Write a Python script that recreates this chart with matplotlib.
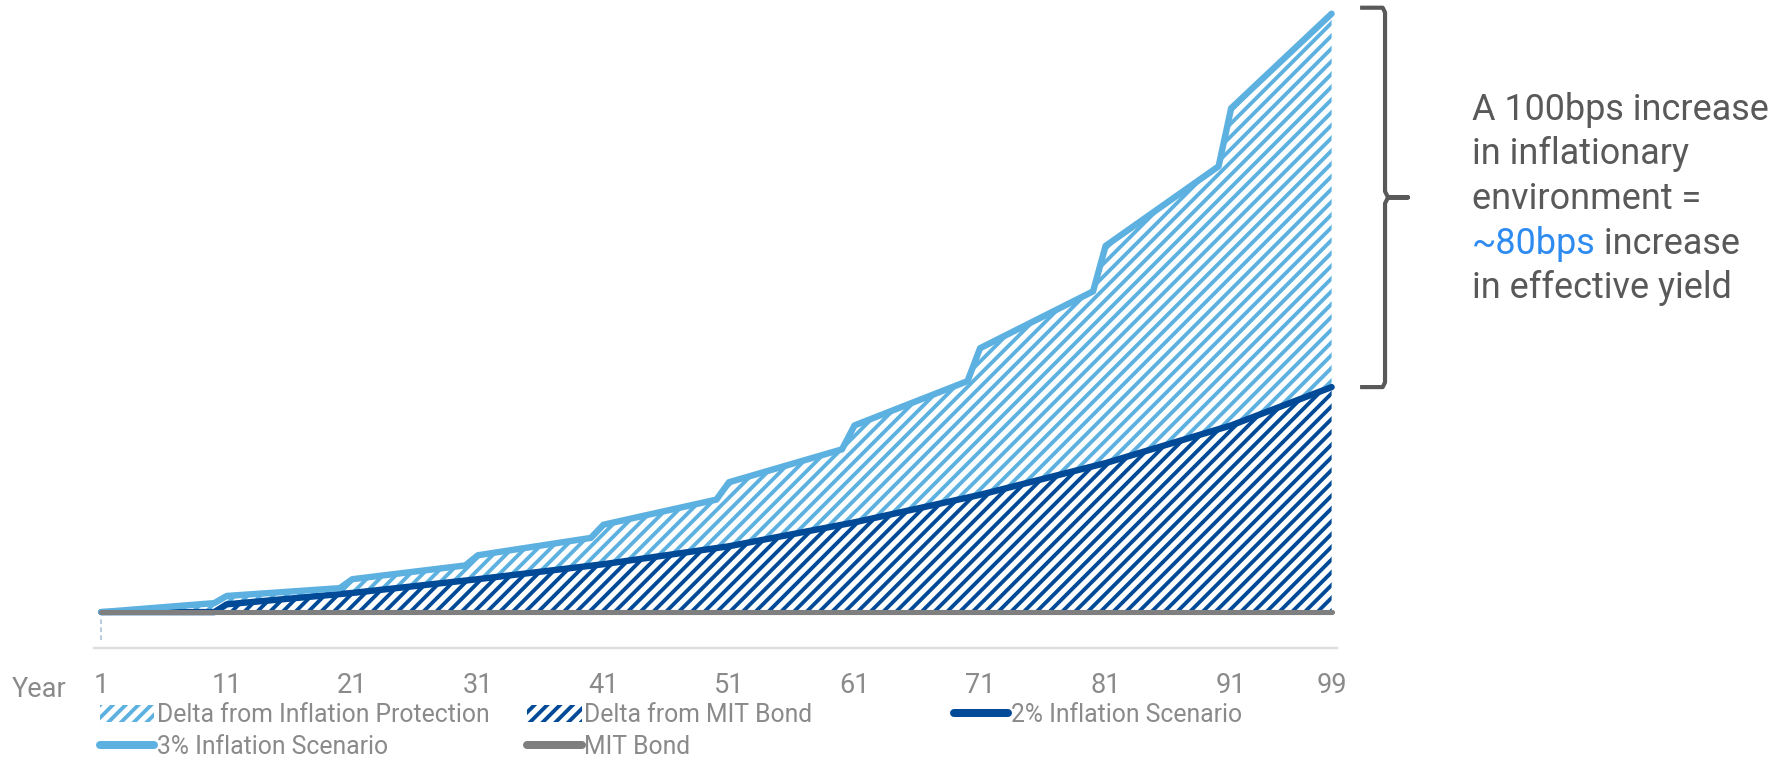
import numpy as np
import matplotlib
matplotlib.use('Agg')
import matplotlib.pyplot as plt
from matplotlib.patches import Patch
from matplotlib.lines import Line2D
from matplotlib.transforms import blended_transform_factory

# values (index, 3% scenario end = 100)
years_3pct = [1, 10, 11, 20, 21, 30, 31, 40, 41, 50, 51, 60, 61, 70, 71, 80, 81, 90, 91, 99]
vals_3pct = [0, 1.5, 2.7, 4.0, 5.5, 7.8, 9.5, 12.4, 14.6, 18.8, 21.7, 27.2,
             31.2, 38.6, 44.1, 53.6, 61.2, 74.5, 84.2, 100.0]

years_2pct = [1, 10, 11, 21, 31, 41, 51, 61, 71, 81, 91, 99]
vals_2pct = [0, 0, 1.3, 3.2, 5.5, 8.0, 11.0, 15.0, 19.6, 24.9, 31.2, 37.6]

years_mit = [1, 99]
vals_mit = [0, 0]

tick_years = [1, 11, 21, 31, 41, 51, 61, 71, 81, 91, 99]

light = '#5DB1E1'
dark = '#004A98'
grey = '#7F7F7F'
txt = '#8A8A8A'

plt.rcParams['font.family'] = ['Roboto', 'DejaVu Sans']
plt.rcParams['hatch.linewidth'] = 2.4

DPI = 115
fig = plt.figure(figsize=(1783 / DPI, 757 / DPI), dpi=DPI)
ax = fig.add_axes([0.0527, 0.144, 0.6973, 0.8458])

# hatched areas
ax.fill(np.r_[years_3pct, years_2pct[::-1]], np.r_[vals_3pct, vals_2pct[::-1]],
        facecolor='white', edgecolor=light, hatch='///', lw=0, zorder=1)
ax.fill_between(years_2pct, 0, vals_2pct, facecolor='white', edgecolor=dark,
                hatch='///', lw=0, zorder=1)

# lines
ax.plot(years_2pct, vals_2pct, color=dark, lw=4, solid_capstyle='round',
        solid_joinstyle='round', clip_on=False, zorder=3)
ax.plot(years_3pct, vals_3pct, color=light, lw=4, solid_capstyle='round',
        solid_joinstyle='round', clip_on=False, zorder=4)
ax.plot(years_mit, vals_mit, color=grey, lw=3.2, solid_capstyle='round',
        clip_on=False, zorder=5)

ax.vlines(1, -4.7, -1.1, colors='#A9C0DA', linestyles=(0, (3, 2)), lw=1)

ax.set_xlim(0.42, 99.45)
ax.set_ylim(-6, 101)
for s in ['top', 'left', 'right']:
    ax.spines[s].set_visible(False)
ax.spines['bottom'].set_color('#DDDDDD')
ax.spines['bottom'].set_linewidth(1.5)
ax.set_xticks(tick_years)
ax.set_yticks([])
ax.tick_params(axis='x', length=0, pad=15, labelsize=17, labelcolor=txt)

fig.text(0.00645, 0.0790, 'Year', fontsize=17, color=txt, va='baseline')

# legend, three fixed columns
h_ip = Patch(facecolor='white', edgecolor=light, hatch='///', lw=0)
h_md = Patch(facecolor='white', edgecolor=dark, hatch='///', lw=0)
l2 = Line2D([], [], color=dark, lw=5, solid_capstyle='round')
l3 = Line2D([], [], color=light, lw=5, solid_capstyle='round')
lm = Line2D([], [], color=grey, lw=5, solid_capstyle='round')
leg_kw = dict(frameon=False, fontsize=15.5, labelcolor=txt, handlelength=2.2,
              handletextpad=0.1, labelspacing=0.3, borderpad=0,
              borderaxespad=0, loc='center left')
fig.legend([h_ip, l3], ['Delta from Inflation Protection', '3% Inflation Scenario'],
           bbox_to_anchor=(0.0561, 0.0345), **leg_kw)
fig.legend([h_md, lm], ['Delta from MIT Bond', 'MIT Bond'],
           bbox_to_anchor=(0.2956, 0.0345), **leg_kw)
fig.legend([l2], ['2% Inflation Scenario'],
           bbox_to_anchor=(0.535, 0.0560), **leg_kw)

# bracket between the two end values
tr = blended_transform_factory(fig.transFigure, ax.transData)
top = vals_3pct[-1] + 1
bot = vals_2pct[-1]
mid = (top + bot) / 2
bx = [0.7628, 0.7755, 0.7768, 0.7768, 0.7785, 0.7897, 0.7785, 0.7768, 0.7768, 0.7755, 0.7628]
by = [top, top, top - 0.8, mid + 1.0, mid, mid, mid, mid - 1.0, bot + 0.8, bot, bot]
ax.plot(bx, by, transform=tr, color='#595959', lw=2.6, clip_on=False,
        solid_joinstyle='round', solid_capstyle='butt')

# annotation
ann = '#595959'
fs = 22.5
x0 = 0.8254
fig.text(x0, 1 - 120 / 757, 'A 100bps increase', fontsize=fs, color=ann, va='baseline')
fig.text(x0, 1 - 164.5 / 757, 'in inflationary', fontsize=fs, color=ann, va='baseline')
fig.text(x0, 1 - 209 / 757, 'environment =', fontsize=fs, color=ann, va='baseline')
t4 = fig.text(x0, 1 - 253.5 / 757, '~80bps', fontsize=fs, color='#2E8BF0', va='baseline')
ax.annotate(' increase', xy=(1, 0), xycoords=t4, ha='left', va='bottom',
            fontsize=fs, color=ann)
fig.text(x0, 1 - 298 / 757, 'in effective yield', fontsize=fs, color=ann, va='baseline')

fig.savefig('out.png', dpi=DPI)
